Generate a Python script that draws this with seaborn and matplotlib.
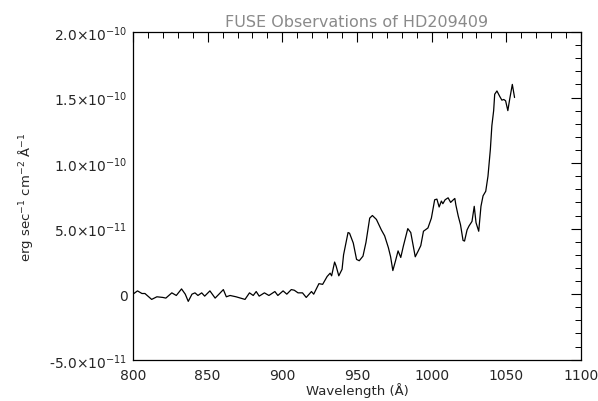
import numpy as np
import pandas as pd
import matplotlib
matplotlib.use("Agg")
import matplotlib.pyplot as plt
from matplotlib.ticker import MultipleLocator
import seaborn as sns

# Spectrum (flux in units of 1e-11 erg/s/cm2/A)
wavelength = [800, 803, 806, 808, 812.5, 816, 820, 822, 826, 829, 832.5, 835, 837,
              839.5, 841.5, 843.5, 846, 848, 851.5, 855, 858, 860.5, 862.5, 865, 869,
              875, 878, 880.5, 882.5, 884.5, 888, 891, 895, 897, 900.5, 903, 906, 908,
              910.5, 913.5, 916, 919.5, 921, 924.5, 927, 930, 932, 933, 935, 936, 937.8,
              940, 941, 944, 945, 947.5, 949.7, 951.5, 954, 956, 958.5, 960.3, 963,
              966.3, 968.5, 971, 972.5, 974, 975.8, 977.5, 979.3, 981, 984, 986, 989,
              991, 992.7, 994.5, 997.5, 999.8, 1002, 1003.5, 1005, 1006.5, 1007.5, 1009,
              1011, 1012.7, 1014.5, 1015.5, 1016.2, 1017.8, 1019.3, 1021, 1022, 1023.7,
              1025, 1027, 1028.5, 1029.7, 1031.5, 1033, 1034.4, 1036.2, 1037.7, 1039.3,
              1040.3, 1041.5, 1042.2, 1043.7, 1045.5, 1047, 1048.3, 1049.5, 1051, 1052.2,
              1054, 1055.5]
flux_e11 = [0, 0.25, 0.05, 0.05, -0.4, -0.2, -0.25, -0.3, 0.1, -0.1, 0.4, 0, -0.55,
            0, 0.1, -0.1, 0.1, -0.15, 0.25, -0.3, 0.05, 0.35, -0.2, -0.1, -0.2,
            -0.4, 0.1, -0.1, 0.2, -0.15, 0.1, -0.1, 0.2, -0.1, 0.25, 0, 0.35, 0.3,
            0.1, 0.1, -0.25, 0.2, 0.0, 0.8, 0.75, 1.35, 1.6, 1.4, 2.45, 2.15, 1.4,
            1.9, 3.0, 4.7, 4.65, 3.9, 2.65, 2.55, 2.9, 3.95, 5.8, 6.0, 5.7,
            4.9, 4.45, 3.55, 2.85, 1.8, 2.55, 3.3, 2.8, 3.65, 5.0, 4.7, 2.85,
            3.3, 3.7, 4.8, 5.05, 5.8, 7.2, 7.25, 6.65, 7.1, 6.9, 7.2,
            7.35, 7.0, 7.2, 7.3, 6.8, 5.95, 5.3, 4.1, 4.05, 4.9,
            5.2, 5.55, 6.7, 5.45, 4.8, 6.7, 7.5, 7.85, 9.0, 11.05,
            12.85, 14.0, 15.25, 15.5, 15.1, 14.8, 14.85, 14.75, 14.0, 14.85,
            16.0, 15.0]

ytick_values = [-5e-11, 0, 5e-11, 1e-10, 1.5e-10, 2e-10]
ytick_labels = [r"-5.0$\times$10$^{-11}$", "0", r"5.0$\times$10$^{-11}$",
                r"1.0$\times$10$^{-10}$", r"1.5$\times$10$^{-10}$", r"2.0$\times$10$^{-10}$"]
xtick_values = [800, 850, 900, 950, 1000, 1050, 1100]

df = pd.DataFrame({"wavelength": wavelength,
                   "flux": np.array(flux_e11) * 1e-11})

sns.set_style("white")
plt.rcParams["font.family"] = ["DejaVu Sans"]
plt.rcParams["mathtext.fontset"] = "dejavusans"

fig = plt.figure(figsize=(5.98, 4.02), dpi=100)
ax = fig.add_axes([0.2224, 0.1027, 0.7492, 0.8153])

sns.lineplot(data=df, x="wavelength", y="flux", ax=ax, color="black",
             linewidth=0.9, sort=False, estimator=None)

ax.set_xlim(800, 1100)
ax.set_ylim(-5e-11, 2e-10)
ax.set_xticks(xtick_values)
ax.set_xticklabels([str(v) for v in xtick_values])
ax.set_yticks(ytick_values)
ax.set_yticklabels(ytick_labels)
ax.xaxis.set_minor_locator(MultipleLocator(10))
ax.yaxis.set_minor_locator(MultipleLocator(1e-11))
ax.tick_params(which="both", direction="in", top=True, right=True, color="black")
ax.tick_params(axis="x", labelsize=10, pad=6)
ax.tick_params(axis="y", labelsize=10, pad=4)
ax.tick_params(which="major", length=7, width=0.8)
ax.tick_params(which="minor", length=4, width=0.7)
for s in ax.spines.values():
    s.set_color("black")
    s.set_linewidth(0.9)

ax.set_xlabel("Wavelength (Å)", fontsize=9.5, labelpad=0)
ax.set_ylabel(r"erg sec$^{-1}$ cm$^{-2}$ Å$^{-1}$", fontsize=9.5, labelpad=10)
ax.set_title("FUSE Observations of HD209409", fontsize=11.5, color="#8a8a8a", pad=4)

fig.savefig("out.png", dpi=100)
